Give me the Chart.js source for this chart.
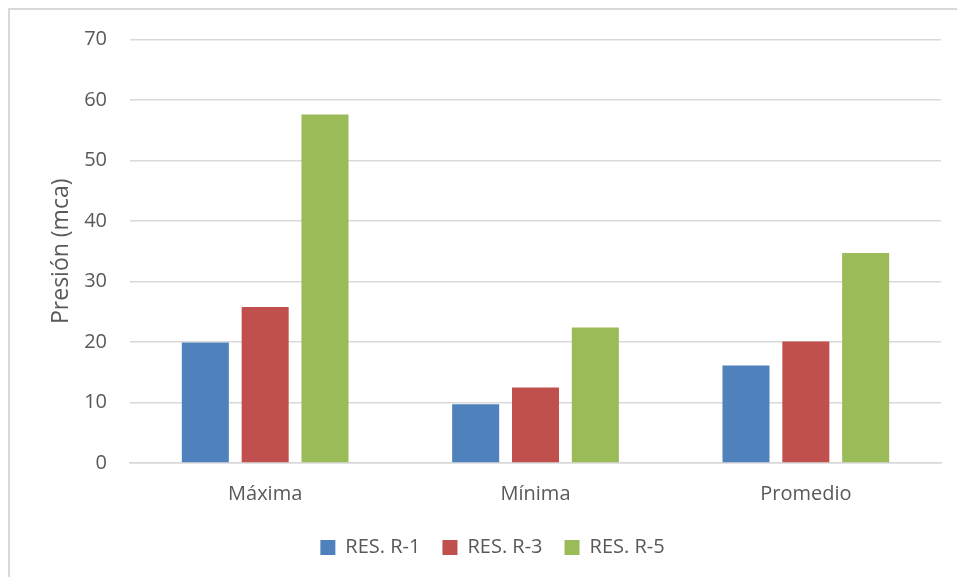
<!DOCTYPE html>
<html>
<head>
<meta charset="utf-8">
<script src="https://cdn.jsdelivr.net/npm/chart.js@4/dist/chart.umd.min.js"></script>
<style>
  html, body { margin: 0; padding: 0; background: #ffffff; }
  #wrap { position: relative; width: 957px; height: 577px; }
</style>
</head>
<body>
<div id="wrap"><canvas id="chart" width="957" height="577"></canvas></div>
<script>
// Pressure per reservoir (mca)
const categories = ['Máxima', 'Mínima', 'Promedio'];
const seriesNames = ['RES. R-1', 'RES. R-3', 'RES. R-5'];
const resR1 = [19.9, 9.7, 16.1];
const resR3 = [25.8, 12.5, 20.1];
const resR5 = [57.6, 22.4, 34.7];
const yTicks = [0, 10, 20, 30, 40, 50, 60, 70];

const colors = ['#4F81BD', '#C0504D', '#9BBB59'];
const textColor = '#595959';
const gridColor = '#d9d9d9';
const fontFamily = '"Open Sans", "Liberation Sans", sans-serif';

// Light frame around the chart, open to the right and bottom
const framePlugin = {
  id: 'frame',
  beforeDraw(chart) {
    const ctx = chart.ctx;
    ctx.save();
    ctx.strokeStyle = gridColor;
    ctx.lineWidth = 2;
    ctx.beginPath();
    ctx.moveTo(9, chart.height + 2);
    ctx.lineTo(9, 9);
    ctx.lineTo(chart.width + 2, 9);
    ctx.stroke();
    ctx.restore();
  }
};

new Chart(document.getElementById('chart'), {
  type: 'bar',
  data: {
    labels: categories,
    datasets: [resR1, resR3, resR5].map((vals, i) => ({
      label: seriesNames[i],
      data: vals,
      backgroundColor: colors[i],
      borderWidth: 0,
      categoryPercentage: 0.664,
      barPercentage: 0.786
    }))
  },
  options: {
    responsive: false,
    animation: false,
    layout: { padding: { left: 44, right: 16, top: 39.5, bottom: 9.5 } },
    plugins: {
      tooltip: { enabled: false },
      legend: {
        position: 'bottom',
        labels: {
          color: textColor,
          font: { family: fontFamily, size: 20 },
          boxWidth: 15,
          boxHeight: 15,
          padding: 22
        }
      }
    },
    scales: {
      x: {
        afterFit(scale) { scale.height = 52.5; },
        grid: { display: false, drawTicks: false },
        border: { display: true, color: gridColor, width: 1.5 },
        ticks: {
          color: textColor,
          font: { family: fontFamily, size: 20 },
          padding: 19.5
        }
      },
      y: {
        min: 0,
        max: 70,
        afterBuildTicks(scale) {
          scale.ticks = yTicks.map(v => ({ value: v }));
        },
        afterFit(scale) { scale.width = 86; },
        grid: { color: gridColor, lineWidth: 1.5, drawTicks: false },
        border: { display: false },
        ticks: {
          color: textColor,
          font: { family: fontFamily, size: 20 },
          padding: 23
        },
        title: {
          display: true,
          text: 'Presión (mca)',
          color: textColor,
          font: { family: fontFamily, size: 23 },
          padding: { top: 4, bottom: 4 }
        }
      }
    }
  },
  plugins: [framePlugin]
});
</script>
</body>
</html>
